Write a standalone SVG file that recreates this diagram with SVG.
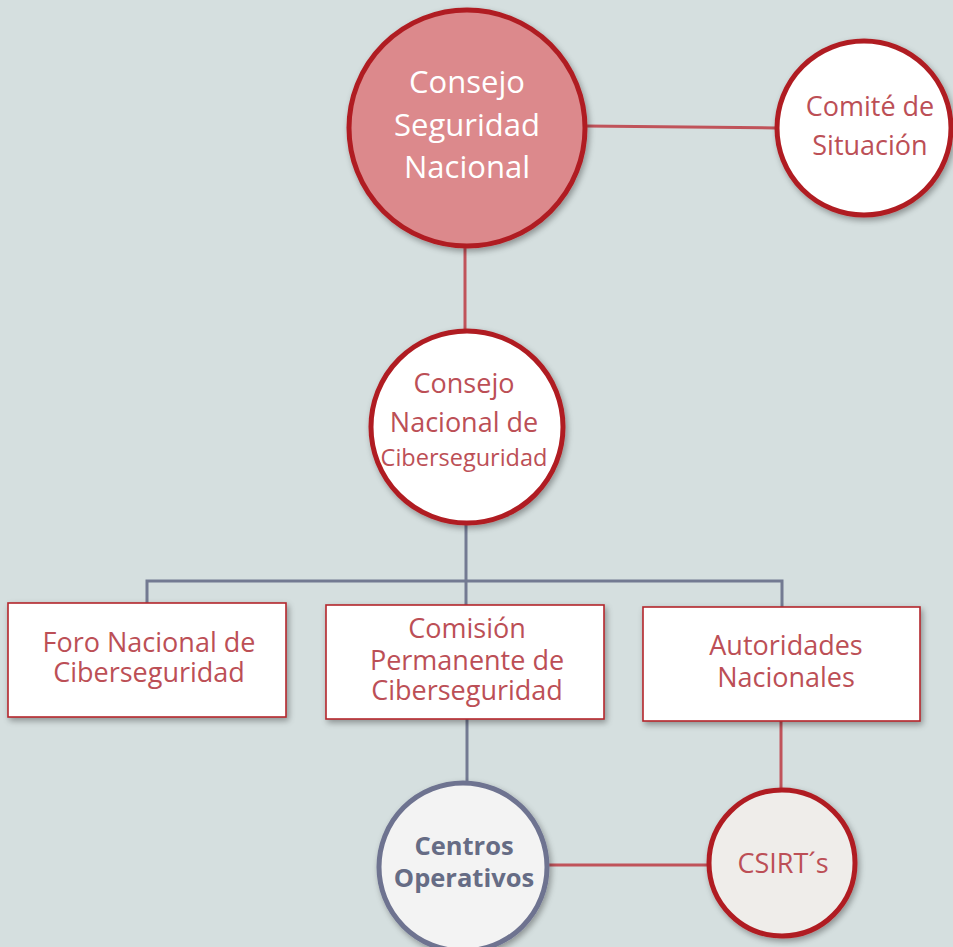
<svg xmlns="http://www.w3.org/2000/svg" width="953" height="947" viewBox="0 0 953 947">
<style>
.t{font-family:"Open Sans","Noto Sans","DejaVu Sans",sans-serif;text-anchor:middle;fill:#BC4F56}
.w{fill:#FFFFFF}
.b{font-weight:bold;fill:#666C85}
.red{stroke:#C0535A;stroke-width:3;fill:none}
.gray{stroke:#737A92;stroke-width:3;fill:none}
.box{fill:#FFFFFF;stroke:#B3262C;stroke-width:1.6}
.rc{stroke:#B01E23;stroke-width:5}
</style>
<defs>
<filter id="sh" x="-20%" y="-20%" width="140%" height="140%">
<feGaussianBlur in="SourceAlpha" stdDeviation="3"/>
<feOffset dx="2" dy="3" result="o"/>
<feComponentTransfer><feFuncA type="linear" slope="0.35"/></feComponentTransfer>
<feMerge><feMergeNode/><feMergeNode in="SourceGraphic"/></feMerge>
</filter>
</defs>
<rect width="953" height="947" fill="#D5DFDF"/>
<g id="connectors">
<line class="red" x1="585" y1="126" x2="776" y2="128"/>
<line class="red" x1="465" y1="246" x2="465" y2="330"/>
<polyline class="gray" points="147,603 147,581 782,581 782,607"/>
<line class="gray" x1="466" y1="524" x2="466" y2="605"/>
<line class="gray" x1="467" y1="719" x2="467" y2="783"/>
<line class="red" x1="781" y1="721" x2="781" y2="792"/>
<line class="red" x1="546" y1="865" x2="708" y2="865"/>
</g>
<g id="consejo-seguridad-nacional">
<circle cx="467" cy="128" r="118" fill="#DC898C" class="rc" filter="url(#sh)"/>
<text class="t w" font-size="31" x="467" y="93">Consejo</text>
<text class="t w" font-size="31" x="467" y="136">Seguridad</text>
<text class="t w" font-size="31" x="467" y="178">Nacional</text>
</g>
<g id="comite-situacion">
<circle cx="864" cy="128" r="87" fill="#FFFFFF" class="rc" filter="url(#sh)"/>
<text class="t" font-size="27" x="870" y="116">Comité de</text>
<text class="t" font-size="27" x="870" y="155">Situación</text>
</g>
<g id="consejo-nacional-ciberseguridad">
<circle cx="467" cy="427" r="96" fill="#FFFFFF" class="rc" filter="url(#sh)"/>
<text class="t" font-size="27" x="464" y="393">Consejo</text>
<text class="t" font-size="27" x="464" y="432">Nacional de</text>
<text class="t" font-size="23.5" x="464" y="466">Ciberseguridad</text>
</g>
<g id="foro">
<rect class="box" x="8" y="603" width="278" height="114" filter="url(#sh)"/>
<text class="t" font-size="27" x="149" y="652">Foro Nacional de</text>
<text class="t" font-size="27" x="149" y="682">Ciberseguridad</text>
</g>
<g id="comision">
<rect class="box" x="326" y="605" width="278" height="114" filter="url(#sh)"/>
<text class="t" font-size="27" x="467" y="638">Comisión</text>
<text class="t" font-size="27" x="467" y="670">Permanente de</text>
<text class="t" font-size="27" x="467" y="700">Ciberseguridad</text>
</g>
<g id="autoridades">
<rect class="box" x="643" y="607" width="277" height="114" filter="url(#sh)"/>
<text class="t" font-size="27" x="786" y="655">Autoridades</text>
<text class="t" font-size="27" x="786" y="687">Nacionales</text>
</g>
<g id="centros">
<circle cx="463" cy="867" r="84" fill="#F3F3F3" stroke="#6E7390" stroke-width="5" filter="url(#sh)"/>
<text class="t b" font-size="25.5" x="464" y="855">Centros</text>
<text class="t b" font-size="25.5" x="464" y="887">Operativos</text>
</g>
<g id="csirts">
<circle cx="782" cy="863" r="73" fill="#EFEDEA" class="rc" filter="url(#sh)"/>
<text class="t" font-size="27" x="783" y="873">CSIRT´s</text>
</g>
</svg>
